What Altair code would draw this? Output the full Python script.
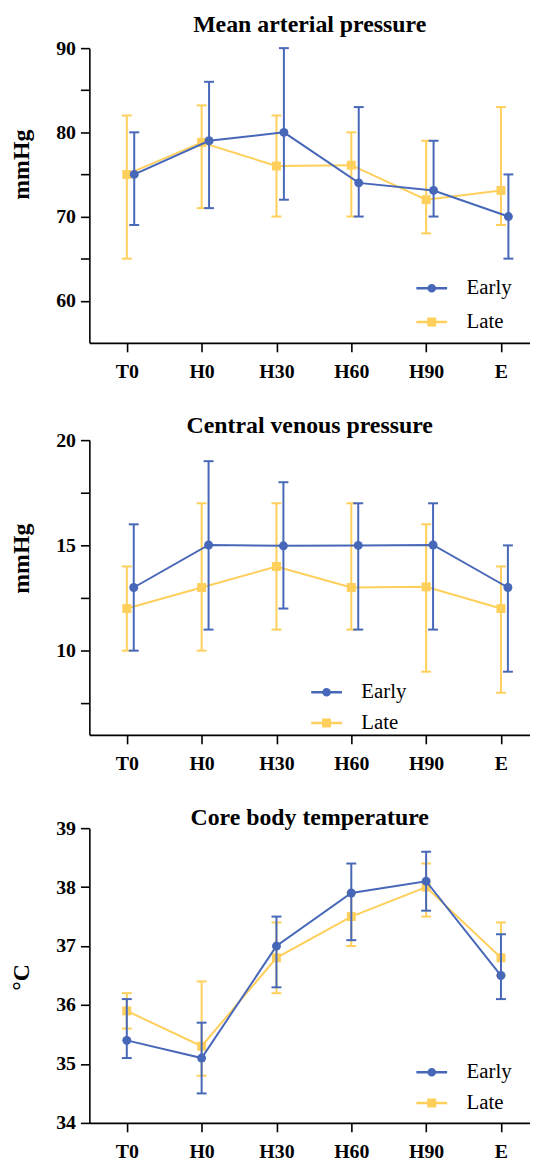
import altair as alt
import pandas as pd

times = ["T0", "H0", "H30", "H60", "H90", "E"]
groups = ["Early", "Late"]

map_early_mean = [75, 79, 80, 74, 73.1, 70]
map_early_lo = [69, 71, 72, 70, 70, 65]
map_early_hi = [80, 86, 90, 83, 79, 75]
map_late_mean = [75, 78.8, 76, 76.1, 72, 73.1]
map_late_lo = [65, 71, 70, 70, 68, 69]
map_late_hi = [82, 83.2, 82, 80, 79, 83]

cvp_early_mean = [13, 15.02, 14.98, 15, 15.02, 13]
cvp_early_lo = [10, 11, 12, 11, 11, 9]
cvp_early_hi = [16, 19, 18, 17, 17, 15]
cvp_late_mean = [12, 13, 14, 13, 13.03, 12]
cvp_late_lo = [10, 10, 11, 11, 9, 8]
cvp_late_hi = [14, 17, 17, 17, 16, 14]

temp_early_mean = [35.4, 35.1, 37.0, 37.9, 38.1, 36.5]
temp_early_lo = [35.1, 34.5, 36.3, 37.1, 37.6, 36.1]
temp_early_hi = [36.1, 35.7, 37.5, 38.4, 38.6, 37.2]
temp_late_mean = [35.9, 35.3, 36.8, 37.5, 38.0, 36.8]
temp_late_lo = [35.6, 34.8, 36.2, 37.0, 37.5, 36.5]
temp_late_hi = [36.2, 36.4, 37.4, 37.9, 38.4, 37.4]

BLUE = "#4767B8"
YELLOW = "#FFCF5C"
SERIF = "Liberation Serif"
COLORS = {"Early": BLUE, "Late": YELLOW}


def make_df(em, el, eh, lm, ll, lh):
    rows = []
    for i, t in enumerate(times):
        rows.append({"time": t, "group": "Early", "mean": em[i], "lo": el[i], "hi": eh[i]})
    for i, t in enumerate(times):
        rows.append({"time": t, "group": "Late", "mean": lm[i], "lo": ll[i], "hi": lh[i]})
    return pd.DataFrame(rows)


def circ(r):
    return f"M{-r},0A{r},{r},0,1,1,{r},0A{r},{r},0,1,1,{-r},0"


def sq(h):
    return f"M{-h},{-h}L{h},{-h}L{h},{h}L{-h},{h}Z"


LEG_CIRCLE = "M-1,0L1,0" + circ(0.2) + circ(0.08)
LEG_SQUARE = "M-1,0L1,0" + sq(0.21) + sq(0.07)


def panel(df, title, ytitle, domain, ticks, major, early_off, title_off, title_y,
          lx, ly, row_pad):
    x = alt.X("time:N", sort=times, scale=alt.Scale(type="point", padding=0.444, align=0.563),
              axis=alt.Axis(title=None, labelAngle=0, labelPadding=10))
    yscale = alt.Scale(domain=domain, nice=False, zero=False)
    is_major = f"abs(datum.value/{major} - round(datum.value/{major})) < 0.001"
    yaxis = alt.Axis(title=ytitle, values=ticks, labelOverlap=False,
                     labelExpr=f"{is_major} ? format(datum.value, 'd') : ''",
                     titleX=-56, titleY=title_y, titleBaseline="bottom", titleAngle=270,
                     titleFontSize=24, titleAlign="center")
    base = alt.Chart(df).encode(x=x)

    layers = []
    for g, off, shp in [("Late", 0, "square"), ("Early", early_off, "circle")]:
        c = COLORS[g]
        b = base.transform_filter(alt.datum.group == g)
        layers.append(b.mark_rule(strokeWidth=2, xOffset=off, color=c).encode(
            y=alt.Y("lo:Q", scale=yscale, axis=yaxis), y2="hi:Q"))
        layers.append(b.mark_tick(thickness=2, size=10, xOffset=off, color=c, opacity=1).encode(y=alt.Y("hi:Q")))
        layers.append(b.mark_tick(thickness=2, size=10, xOffset=off, color=c, opacity=1).encode(y=alt.Y("lo:Q")))
        layers.append(b.mark_line(strokeWidth=2, xOffset=off, color=c).encode(y=alt.Y("mean:Q")))
        layers.append(b.mark_point(shape=shp, filled=True, size=81, opacity=1, xOffset=off, color=c).encode(
            y=alt.Y("mean:Q")))

    leg = alt.Legend(title=None, orient="none", legendX=lx, legendY=ly, padding=0,
                     symbolSize=961, symbolStrokeWidth=2.5, symbolOpacity=1,
                     labelFont=SERIF, labelFontSize=21, labelFontWeight="normal",
                     labelColor="black", labelOffset=18, rowPadding=row_pad)
    dummy = alt.Chart(df).mark_point(filled=False, opacity=0).encode(
        x=x, y=alt.Y("mean:Q"),
        color=alt.Color("group:N", scale=alt.Scale(domain=groups, range=[BLUE, YELLOW]), legend=leg),
        shape=alt.Shape("group:N", scale=alt.Scale(domain=groups, range=[LEG_CIRCLE, LEG_SQUARE]), legend=leg),
    )
    layers.append(dummy)
    return alt.layer(*layers).properties(
        width=444, height=297,
        title=alt.TitleParams(title, font=SERIF, fontSize=24, fontWeight="bold",
                              anchor="middle", offset=title_off, color="black"),
    )


df1 = make_df(map_early_mean, map_early_lo, map_early_hi, map_late_mean, map_late_lo, map_late_hi)
df2 = make_df(cvp_early_mean, cvp_early_lo, cvp_early_hi, cvp_late_mean, cvp_late_lo, cvp_late_hi)
df3 = make_df(temp_early_mean, temp_early_lo, temp_early_hi, temp_late_mean, temp_late_lo, temp_late_hi)

p1 = panel(df1, "Mean arterial pressure", "mmHg", [55, 90],
           [60, 65, 70, 75, 80, 85, 90], 10, 7.5, 1, 117, 328, 225, 7)
p2 = panel(df2, "Central venous pressure", "mmHg", [6, 20],
           [7.5, 10, 12.5, 15, 17.5, 20], 5, 7, -8, 119, 222, 237, 4)
p3 = panel(df3, "Core body temperature", "°C", [34, 39],
           [34, 34.5, 35, 35.5, 36, 36.5, 37, 37.5, 38, 38.5, 39], 1, 0, -12, 150, 328, 229, 4)

chart = alt.vconcat(p1, p2, p3, spacing=33).resolve_scale(
    color="independent", shape="independent"
).resolve_legend(color="independent", shape="independent").properties(
    padding={"left": 2, "top": 1, "right": 0, "bottom": 0}
).configure(font=SERIF).configure_view(stroke=None).configure_axis(
    domainColor="black", domainWidth=1.6, tickColor="black", tickWidth=1.6, tickSize=9,
    labelFont=SERIF, labelFontSize=20, labelFontWeight="bold", labelColor="black", labelPadding=5,
    titleFont=SERIF, titleFontSize=24, titleFontWeight="bold", titleColor="black", grid=False,
)

chart.save("out.html", embed_options={"renderer": "svg", "actions": False})
